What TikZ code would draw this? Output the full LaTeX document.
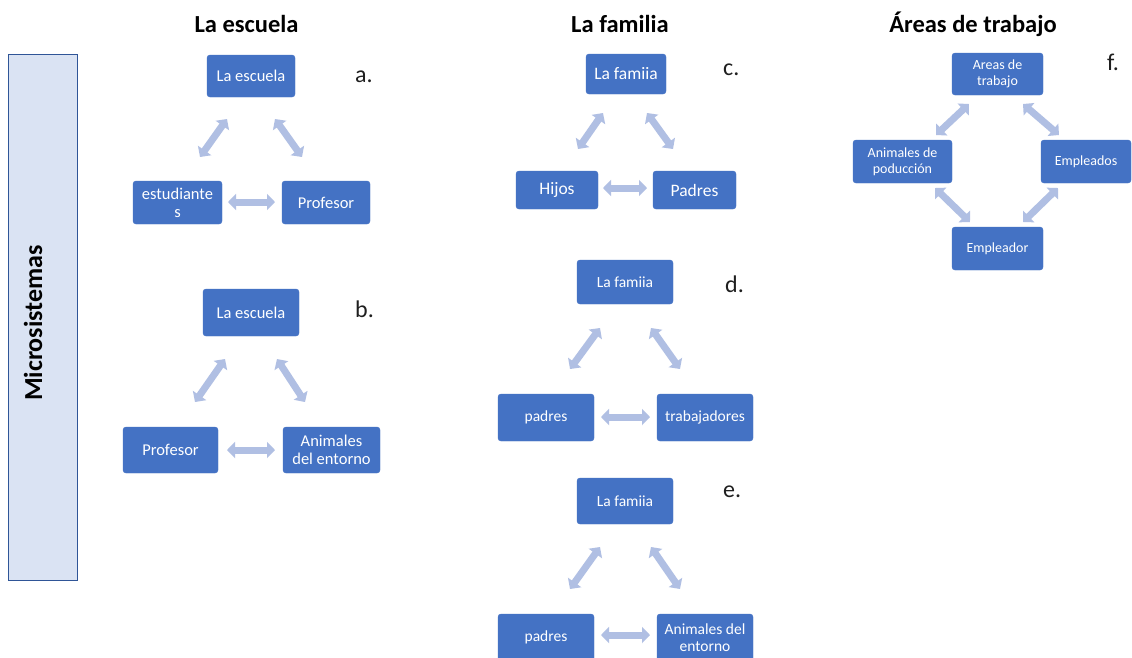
\documentclass[tikz,border=0pt]{standalone}
\usepackage{fontspec}
\setmainfont{Carlito}
\usetikzlibrary{arrows.meta}
\definecolor{boxblue}{HTML}{4472C4}
\definecolor{arrowc}{RGB}{176,191,227}
\definecolor{sidefill}{HTML}{DAE3F3}
\definecolor{sidedraw}{HTML}{2F5597}
\tikzset{
  box/.style={fill=boxblue, draw=boxblue, rounded corners=3pt, text=white, align=center, inner sep=1pt},
  boxa/.style={box, font=\fontsize{16.5}{18}\selectfont},
  boxc/.style={box, font=\fontsize{17.5}{19}\selectfont},
  boxd/.style={box, font=\fontsize{15.5}{17}\selectfont},
  boxf/.style={box, font=\fontsize{14}{16}\selectfont},
  biarrow/.style={line width=7pt, draw=arrowc, {Triangle[width=16pt,length=8pt]}-{Triangle[width=16pt,length=8pt]}},
  title/.style={font=\bfseries\fontsize{24.5}{28}\selectfont, anchor=base},
  letter/.style={font=\fontsize{24}{28}\selectfont, anchor=base west, text=black!88, inner sep=0pt},
}
\begin{document}
\begin{tikzpicture}[x=1pt,y=-1pt]
\clip (0,0) rectangle (1132,657);
\fill[white] (0,0) rectangle (1132,657);

% side panel
\node[draw=sidedraw, fill=sidefill, line width=0.8pt, minimum width=69pt, minimum height=526pt, inner sep=0pt] (side) at (42.5,317) {};
\node[rotate=90, font=\bfseries\fontsize{26}{30}\selectfont] (sidetext) at (33,323) {Microsistemas};

% titles
\node[title] (t1) at (246.5,32) {La escuela};
\node[title] (t2) at (620,32) {La familia};
\node[title] (t3) at (973,32) {Áreas de trabajo};

% group a
\node[boxa, minimum width=88pt, minimum height=42pt] (a1) at (251,76) {La escuela};
\node[boxa, minimum width=89pt, minimum height=43pt] (a2) at (177.5,202.5) {estudiante\\s};
\node[boxa, minimum width=88pt, minimum height=43pt] (a3) at (326,202.5) {Profesor};
\node[letter] (la) at (355,82) {a.};
\coordinate (aL1) at (227,119); \coordinate (aL2) at (200,157);
\coordinate (aR1) at (275,119); \coordinate (aR2) at (302,157);
\coordinate (aH1) at (228,202); \coordinate (aH2) at (275,202);
\draw[biarrow] (aL1) -- (aL2);
\draw[biarrow] (aR1) -- (aR2);
\draw[biarrow] (aH1) -- (aH2);

% group b
\node[boxa, minimum width=96pt, minimum height=47pt] (b1) at (251,312.5) {La escuela};
\node[boxa, minimum width=95pt, minimum height=46pt] (b2) at (170.5,450) {Profesor};
\node[boxa, minimum width=97pt, minimum height=46pt] (b3) at (331.5,450) {Animales\\del entorno};
\node[letter] (lb) at (355,317) {b.};
\coordinate (bL1) at (225,359); \coordinate (bL2) at (195,402);
\coordinate (bR1) at (277,359); \coordinate (bR2) at (305,402);
\coordinate (bH1) at (227,450); \coordinate (bH2) at (275,450);
\draw[biarrow] (bL1) -- (bL2);
\draw[biarrow] (bR1) -- (bR2);
\draw[biarrow] (bH1) -- (bH2);

% group c
\node[boxc, minimum width=80pt, minimum height=40pt] (c1) at (626,74) {La famiia};
\node[boxc, minimum width=82pt, minimum height=38pt] (c2) at (557,190) {Hijos};
\node[boxc, minimum width=83pt, minimum height=38pt] (c3) at (694.5,190) {Padres};
\node[letter] (lc) at (723,75) {c.};
\coordinate (cL1) at (603,113); \coordinate (cL2) at (578,149);
\coordinate (cR1) at (647,113); \coordinate (cR2) at (673,149);
\coordinate (cH1) at (603,188); \coordinate (cH2) at (647,188);
\draw[biarrow] (cL1) -- (cL2);
\draw[biarrow] (cR1) -- (cR2);
\draw[biarrow] (cH1) -- (cH2);

% group d
\node[boxd, minimum width=96pt, minimum height=44pt] (d1) at (625,282) {La famiia};
\node[boxd, minimum width=96pt, minimum height=47pt] (d2) at (546,417.5) {padres};
\node[boxd, minimum width=96pt, minimum height=47pt] (d3) at (705,417.5) {trabajadores};
\node[letter] (ld) at (725,292) {d.};
\coordinate (dL1) at (600,328); \coordinate (dL2) at (570,369);
\coordinate (dR1) at (651,328); \coordinate (dR2) at (680,369);
\coordinate (dH1) at (601,417); \coordinate (dH2) at (650,417);
\draw[biarrow] (dL1) -- (dL2);
\draw[biarrow] (dR1) -- (dR2);
\draw[biarrow] (dH1) -- (dH2);

% group e
\node[boxd, minimum width=96pt, minimum height=46pt] (e1) at (625,501) {La famiia};
\node[boxd, minimum width=96pt, minimum height=47pt] (e2) at (546,637.5) {padres};
\node[boxd, minimum width=96pt, minimum height=47pt] (e3) at (705,637.5) {Animales del\\entorno};
\node[letter] (le) at (723,497) {e.};
\coordinate (eL1) at (600,547); \coordinate (eL2) at (570,589);
\coordinate (eR1) at (651,547); \coordinate (eR2) at (680,589);
\coordinate (eH1) at (601,635); \coordinate (eH2) at (650,635);
\draw[biarrow] (eL1) -- (eL2);
\draw[biarrow] (eR1) -- (eR2);
\draw[biarrow] (eH1) -- (eH2);

% group f
\node[boxf, minimum width=91pt, minimum height=42pt] (f1) at (997.5,74) {Areas de\\trabajo};
\node[boxf, minimum width=99pt, minimum height=43pt] (f2) at (902.5,161.5) {Animales de\\poducción};
\node[boxf, minimum width=90pt, minimum height=43pt] (f3) at (1086,161.5) {Empleados};
\node[boxf, minimum width=91pt, minimum height=43pt] (f4) at (997.5,248.5) {Empleador};
\node[letter] (lf) at (1107,70) {f.};
\coordinate (fTL1) at (969,104); \coordinate (fTL2) at (936,135);
\coordinate (fTR1) at (1023,104); \coordinate (fTR2) at (1059,135);
\coordinate (fBL1) at (935,188); \coordinate (fBL2) at (970,222);
\coordinate (fBR1) at (1058,188); \coordinate (fBR2) at (1023,222);
\draw[biarrow] (fTL1) -- (fTL2);
\draw[biarrow] (fTR1) -- (fTR2);
\draw[biarrow] (fBL1) -- (fBL2);
\draw[biarrow] (fBR1) -- (fBR2);
\end{tikzpicture}
\end{document}
